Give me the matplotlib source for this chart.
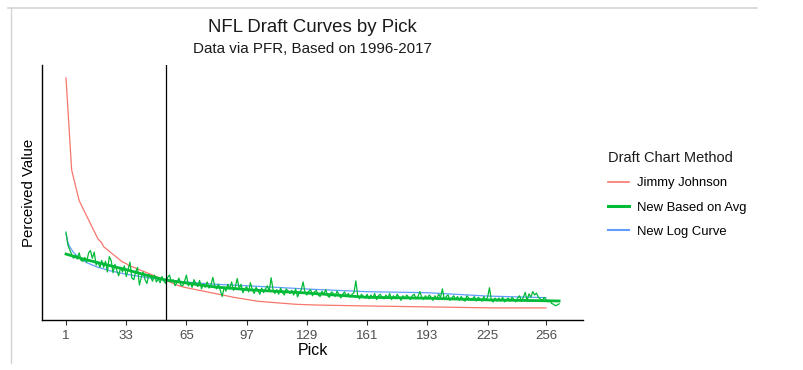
import matplotlib
matplotlib.use("Agg")
import matplotlib.pyplot as plt
from matplotlib.lines import Line2D

plt.rcParams["font.family"] = ["Liberation Sans", "DejaVu Sans"]

# Jimmy Johnson chart values, pick 1..224 (padded to the end of the draft)
jimmy = [3000, 2600, 2200, 1800, 1700, 1600, 1500, 1400, 1350, 1300,
         1250, 1200, 1150, 1100, 1050, 1000, 950, 900, 875, 850,
         800, 780, 760, 740, 720, 700, 680, 660, 640, 620,
         600, 590, 580, 560, 550, 540, 530, 520, 510, 500,
         490, 480, 470, 460, 450, 440, 430, 420, 410, 400,
         390, 380, 370, 360, 350, 340, 330, 320, 310, 300,
         292, 284, 276, 270, 265, 260, 255, 250, 245, 240,
         235, 230, 225, 220, 215, 210, 205, 200, 195, 190,
         185, 180, 175, 170, 165, 160, 155, 150, 145, 140,
         136, 132, 128, 124, 120, 116, 112, 108, 104, 100,
         96, 92, 88, 86, 84, 82, 80, 78, 76, 74,
         72, 70, 68, 66, 64, 62, 60, 58, 56, 54,
         52, 50, 49, 48, 47, 46, 45, 44, 43, 42,
         41, 40, 39.5, 39, 38.5, 38, 37.5, 37, 36.5, 36,
         35.5, 35, 34.5, 34, 33.5, 33, 32.6, 32.2, 31.8, 31.4,
         31, 30.6, 30.2, 29.8, 29.4, 29, 28.6, 28.2, 27.8, 27.4,
         27, 26.6, 26.2, 25.8, 25.4, 25, 24.6, 24.2, 23.8, 23.4,
         23, 22.6, 22.2, 21.8, 21.4, 21, 20.6, 20.2, 19.8, 19.4,
         19, 18.6, 18.2, 17.8, 17.4, 17, 16.6, 16.2, 15.8, 15.4,
         15, 14.6, 14.2, 13.8, 13.4, 13, 12.6, 12.2, 11.8, 11.4,
         11, 10.6, 10.2, 9.8, 9.4, 9, 8.6, 8.2, 7.8, 7.4,
         7, 6.6, 6.2, 5.8, 5.4, 5, 4.6, 4.2, 3.8, 3.4,
         3, 2.6, 2.3, 2, 2, 2, 2, 2, 2, 2,
         2, 2, 2, 2, 2, 2, 2, 2, 2, 2,
         2, 2, 2, 2, 2, 2, 2, 2, 2, 2,
         2, 2, 2, 2, 2, 2]
jimmy_picks = list(range(1, len(jimmy) + 1))

# average value by pick (noisy), picks 1..263
avg_raw = [990, 820, 760, 700, 650, 690, 640, 720, 620, 610,
           660, 600, 720, 750, 650, 730, 560, 600, 530, 620,
           530, 610, 470, 670, 620, 460, 570, 490, 420, 530,
           470, 550, 410, 500, 600, 390, 370, 470, 530, 300,
           400, 470, 370, 320, 440, 400, 350, 430, 340, 380,
           330, 410, 350, 320, 400, 430, 340, 370, 290, 340,
           390, 300, 290, 350, 430, 290, 330, 270, 370, 320,
           280, 360, 250, 310, 270, 340, 260, 300, 400, 290,
           250, 310, 230, 150, 270, 220, 310, 250, 340, 230,
           280, 385, 250, 310, 200, 250, 280, 210, 330, 240,
           190, 270, 230, 180, 260, 200, 250, 290, 220, 395,
           240, 190, 240, 180, 260, 200, 170, 250, 220, 190,
           230, 170, 250, 145, 200, 240, 340, 200, 170, 220,
           240, 160, 210, 230, 170, 150, 220, 180, 240, 160,
           140, 210, 190, 150, 220, 180, 130, 180, 210, 150,
           190, 140, 180, 200, 355, 160, 120, 180, 150, 130,
           180, 120, 170, 130, 190, 110, 160, 180, 130, 120,
           170, 130, 190, 110, 160, 120, 180, 140, 100, 160,
           120, 170, 140, 110, 160, 180, 120, 150, 215, 140,
           110, 160, 120, 170, 140, 100, 160, 120, 180, 140,
           250, 110, 150, 170, 100, 130, 160, 110, 150, 100,
           150, 110, 90, 160, 130, 100, 120, 150, 90, 140,
           120, 90, 150, 100, 140, 265, 100, 80, 130, 90,
           130, 90, 140, 80, 110, 130, 90, 140, 110, 80,
           130, 160, 90, 140, 205, 100, 185, 140, 215, 170,
           195, 140, 120, 90, 140, 110, 80, 100, 60, 50,
           30, 40, 55]
avg_picks = list(range(1, len(avg_raw) + 1))

# smoothed "new based on avg" curve
smooth_picks = [1, 10, 20, 33, 45, 54, 65, 80, 100, 129, 161, 193, 225, 256, 263]
smooth_vals = [704, 640, 580, 500, 420, 365, 326, 275, 235, 196, 140, 128, 106, 95, 92]

# log curve
log_picks = [1, 2, 3, 5, 8, 12, 17, 24, 33, 45, 54, 65, 80, 100, 129, 161, 193, 225, 256]
log_vals = [965, 861, 800, 724, 653, 592, 540, 488, 440, 394, 367, 339, 310, 287,
            248, 213, 200, 156, 135]

tick_picks = [1, 33, 65, 97, 129, 161, 193, 225, 256]
cut_pick = 54

red = "#F8766D"
green = "#00BA38"
blue = "#619CFF"

fig = plt.figure(figsize=(8.04, 3.70), dpi=100)
ax = fig.add_axes([42 / 804, 1 - 320 / 370, 541 / 804, 255 / 370])

ax.plot(jimmy_picks, jimmy, color=red, lw=0.9)
ax.plot(log_picks, log_vals, color=blue, lw=0.9)
ax.plot(avg_picks, avg_raw, color=green, lw=0.9)
ax.plot(smooth_picks, smooth_vals, color=green, lw=2)
ax.axvline(cut_pick, color="black", lw=0.9)

ax.set_xlim(-11.75, 275.7)
ax.set_ylim(-156, 3169)
ax.set_xticks(tick_picks)
ax.set_xticklabels([str(t) for t in tick_picks])
ax.set_yticks([])
for s in ["top", "right"]:
    ax.spines[s].set_visible(False)
for s in ["left", "bottom"]:
    ax.spines[s].set_color("black")
    ax.spines[s].set_linewidth(1)
ax.tick_params(axis="x", length=3.5, width=0.8, color="#333333",
               labelcolor="#4d4d4d", labelsize=9.5, pad=3.5)
ax.set_xlabel("Pick", fontsize=11.5, labelpad=1)
ax.set_ylabel("Perceived Value", fontsize=10.8, labelpad=4)

fig.text(312 / 804, 1 - 28 / 370, "NFL Draft Curves by Pick", ha="center", va="center",
         fontsize=13.4, color="#1a1a1a")
fig.text(312 / 804, 1 - 49 / 370, "Data via PFR, Based on 1996-2017", ha="center",
         va="center", fontsize=10.9, color="#1a1a1a")

handles = [Line2D([], [], color=red, lw=1.2),
           Line2D([], [], color=green, lw=2.2),
           Line2D([], [], color=blue, lw=1.5)]
leg = fig.legend(handles, ["Jimmy Johnson", "New Based on Avg", "New Log Curve"],
                 title="Draft Chart Method", loc="upper left",
                 bbox_to_anchor=(603 / 804, 1 - 146 / 370), frameon=False,
                 fontsize=9.4, title_fontsize=10.5, handlelength=1.6,
                 labelspacing=0.92, handletextpad=0.6, borderaxespad=0)
leg._legend_box.align = "left"
leg.get_title().set_color("#1a1a1a")

# gray screenshot frame
fig.add_artist(Line2D([8 / 804, 757 / 804], [1 - 8 / 370, 1 - 8 / 370],
                      color="#d4d4d4", lw=1.2))
fig.add_artist(Line2D([11 / 804, 11 / 804], [1 - 8 / 370, 1 - 363 / 370],
                      color="#d4d4d4", lw=1.0))

fig.savefig("out.png", dpi=100)
